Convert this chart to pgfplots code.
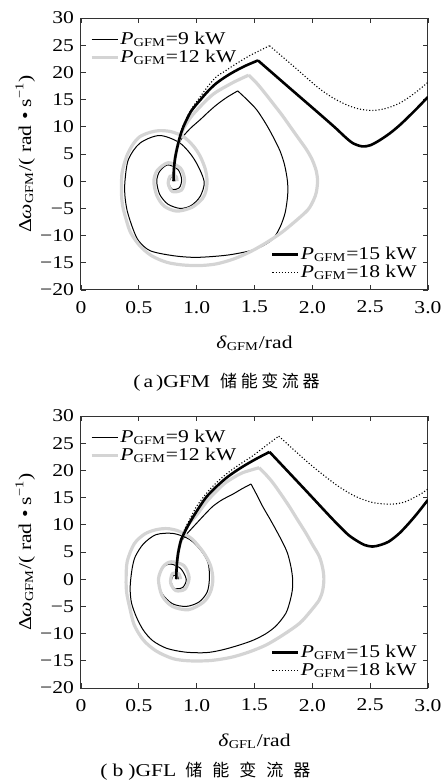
\documentclass[border=0pt]{standalone}
\usepackage{fontspec}
\setmainfont{Liberation Serif}[FakeStretch=1.2]
\newfontfamily\cjk{Noto Sans CJK SC}
\usepackage{pgfplots}
\pgfplotsset{compat=1.18}
\definecolor{lgray}{RGB}{212,212,212}
\newcommand{\fs}{\fontsize{9}{10}\selectfont}
\newcommand{\PG}{\textit{P}\textsubscript{GFM}}
\pgfplotsset{
  myaxis/.style={
    scale only axis, width=173.5pt, height=136pt,
    xmin=0, xmax=3, ymin=-20, ymax=30,
    xtick={0,0.5,1,1.5,2,2.5,3},
    xticklabels={0,0.5,1.0,1.5,2.0,2.5,3.0},
    ytick={-20,-15,-10,-5,0,5,10,15,20,25,30},
    yticklabels={−20,−15,−10,−5,0,5,10,15,20,25,30},
    tick align=inside, major tick length=2.5pt,
    axis line style={line width=0.5pt, black!80},
    every tick/.style={black!80, line width=0.4pt},
    tick label style={font=\fs},
    xticklabel style={yshift=-2pt},
    label style={font=\fs},
    xlabel style={at={(axis description cs:0.5,-0.195)}, anchor=center},
    ylabel style={at={(axis description cs:-0.161,0.5)}, anchor=center},
    legend style={draw=none, fill=none, font=\fs, row sep=0pt, inner sep=0pt,
      nodes={inner sep=0.6pt}},
    legend cell align=left,
    legend image code/.code={\draw[##1] (0pt,0pt) -- (13pt,0pt);},
    no markers,
  },
  p9/.style={black, line width=0.5pt},
  p12/.style={lgray, line width=1.6pt},
  p15/.style={black, line width=1.3pt},
  p18/.style={black, line width=0.55pt, dash pattern=on 0.55pt off 1pt},
}
\begin{document}
\begin{tikzpicture}
\useasboundingbox (-40.5pt,-47.5pt) rectangle (180.5pt,344pt);
% ---------------- (a) ----------------
\begin{axis}[myaxis, name=top, at={(0,199pt)}, anchor=south west,
  xlabel={\textit{δ}\textsubscript{GFM}/rad},
  ylabel={Δ\textit{ω}\textsubscript{GFM}/( rad • s\textsuperscript{−1})},
  legend style={at={(0.025,0.955)}, anchor=north west}]
\addlegendimage{p9}\addlegendentry{\PG=9 kW}
\addlegendimage{p12}\addlegendentry{\PG=12 kW}
% 9 kW
\addplot[p9, smooth, forget plot] coordinates {(0.800,0) (0.803,2) (0.812,4) (0.830,6) (0.856,7.3) (0.885,8.3) (0.95,9.8) (1.03,11.3) (1.10,12.7) (1.17,14.0) (1.26,15.4) (1.355,16.6)};
\addplot[p9, smooth, forget plot] coordinates {(1.355,16.6) (1.44,14.9) (1.52,13.1) (1.60,10.5) (1.66,8.2) (1.72,5.6) (1.76,3.0) (1.785,0) (1.787,-2.5) (1.765,-5.8) (1.72,-8.5) (1.66,-10.6) (1.57,-11.9) (1.46,-12.8) (1.26,-13.6) (1.0,-14.0) (0.80,-13.7) (0.60,-12.8) (0.50,-11.0) (0.45,-8.8) (0.40,-5.5) (0.38,-2.7) (0.38,0) (0.41,4.0) (0.51,7.0) (0.68,8.4) (0.856,7.0) (0.98,4.0) (1.064,0) (1.03,-2.8) (0.95,-4.5) (0.856,-5.0) (0.75,-4.2) (0.68,-2.4) (0.655,0) (0.68,1.8) (0.75,3.0) (0.84,2.1) (0.87,0.3) (0.85,-1.2) (0.79,-1.5) (0.76,-0.4) (0.78,0.7) (0.82,0.5) (0.81,0)};
% 12 kW
\addplot[p12, smooth, forget plot] coordinates {(0.800,0) (0.803,2) (0.812,4) (0.830,6) (0.856,8.0) (0.885,9.6) (0.95,11.8) (1.03,13.7) (1.10,15.2) (1.17,16.4) (1.32,18.2) (1.45,19.5)};
\addplot[p12, smooth, forget plot] coordinates {(1.45,19.5) (1.52,18.0) (1.59,16.2) (1.66,14.3) (1.74,12.1) (1.81,10.0) (1.88,7.9) (1.95,5.8) (2.00,3.9) (2.035,1.8) (2.045,0) (2.035,-2.0) (2.01,-3.5) (1.96,-5.3) (1.84,-7.6) (1.73,-9.5) (1.61,-11.2) (1.47,-12.9) (1.32,-14.3) (1.17,-15.2) (1.03,-15.5) (0.88,-15.4) (0.74,-14.9) (0.61,-13.7) (0.51,-11.9) (0.43,-9.5) (0.39,-7.0) (0.36,-4.5) (0.35,-2.1) (0.355,1.5) (0.395,4.6) (0.45,6.8) (0.51,8.2) (0.60,9.0) (0.68,9.3) (0.78,9.1) (0.885,8.2) (0.97,6.5) (1.03,4.6) (1.075,2.2) (1.09,0) (1.08,-1.8) (1.05,-3.2) (0.96,-4.8) (0.83,-5.5) (0.72,-4.6) (0.655,-2.6) (0.63,0) (0.66,2.0) (0.755,3.4) (0.86,2.4) (0.895,0.3) (0.87,-1.6) (0.79,-1.9) (0.755,-0.5) (0.77,0.9) (0.82,0.9) (0.83,0)};
% 15 kW
\addplot[p15, smooth, forget plot] coordinates {(0.800,0) (0.803,2) (0.812,4) (0.830,6) (0.856,8.2) (0.885,10.0) (0.95,12.8) (1.03,14.9) (1.10,16.6) (1.17,18.0) (1.25,19.2) (1.32,20.1) (1.42,21.2) (1.53,22.2)};
\addplot[p15, smooth, forget plot] coordinates {(1.53,22.2) (1.80,17.2) (2.05,12.6) (2.20,9.8) (2.28,8.2) (2.35,7.0) (2.43,6.4) (2.50,6.6) (2.58,7.5) (2.67,8.8) (2.75,10.2) (2.82,11.6) (2.91,13.5) (3.0,15.5)};
% 18 kW
\addplot[p18, smooth, forget plot] coordinates {(0.800,0) (0.803,2) (0.812,4) (0.830,6) (0.856,8.3) (0.885,10.3) (0.95,13.1) (1.03,15.5) (1.10,17.5) (1.17,19.2) (1.25,20.3) (1.32,21.3) (1.46,23.1) (1.63,24.9)};
\addplot[p18, smooth, forget plot] coordinates {(1.63,24.9) (1.85,20.9) (2.05,17.2) (2.18,15.3) (2.30,14.0) (2.40,13.3) (2.51,13.0) (2.60,13.2) (2.67,13.6) (2.75,14.3) (2.82,15.2) (2.91,16.6) (3.0,18.2)};
\end{axis}
\begin{axis}[myaxis, hide axis, at={(0,199pt)}, anchor=south west,
  legend style={at={(0.972,0.03)}, anchor=south east}]
\addlegendimage{p15}\addlegendentry{\PG=15 kW}
\addlegendimage{p18}\addlegendentry{\PG=18 kW}
\end{axis}
\node[font=\fs, anchor=west, inner sep=0pt] at (26pt,153pt) {(\kern1.5pt a\kern1.5pt)GFM\kern5pt{\cjk\fontsize{8.5}{10}\selectfont 储\kern1.8pt 能\kern1.8pt 变\kern1.8pt 流\kern1.8pt 器}};
% ---------------- (b) ----------------
\begin{axis}[myaxis, name=bot, at={(0,0)}, anchor=south west,
  xlabel={\textit{δ}\textsubscript{GFL}/rad},
  ylabel={Δ\textit{ω}\textsubscript{GFM}/( rad • s\textsuperscript{−1})},
  legend style={at={(0.025,0.955)}, anchor=north west}]
\addlegendimage{p9}\addlegendentry{\PG=9 kW}
\addlegendimage{p12}\addlegendentry{\PG=12 kW}
% 9 kW
\addplot[p9, smooth, forget plot] coordinates {(0.824,0) (0.827,2.3) (0.840,4.8) (0.865,6.8) (0.91,8.2) (1.0,10.3) (1.07,11.9) (1.14,13.4) (1.22,14.6) (1.31,15.6) (1.39,16.6) (1.47,17.5)};
\addplot[p9, smooth, forget plot] coordinates {(1.47,17.5) (1.52,15.5) (1.57,13.4) (1.63,11.2) (1.685,9.1) (1.74,6.9) (1.785,4.8) (1.815,2.3) (1.83,0) (1.827,-2.0) (1.805,-4.2) (1.77,-6.3) (1.69,-8.5) (1.60,-10.0) (1.49,-11.2) (1.37,-12.1) (1.22,-13.0) (1.08,-13.5) (0.90,-13.4) (0.74,-12.7) (0.62,-11.3) (0.54,-9.4) (0.48,-7.0) (0.437,-4.4) (0.425,-2.0) (0.43,0) (0.445,2.3) (0.47,4.2) (0.54,6.5) (0.65,8.2) (0.80,8.4) (0.94,7.3) (1.04,5.2) (1.10,2.9) (1.11,0) (1.09,-2.4) (1.02,-4.2) (0.91,-5.0) (0.79,-4.5) (0.70,-2.6) (0.67,0) (0.70,2.0) (0.77,2.8) (0.86,2.0) (0.91,0) (0.88,-1.5) (0.81,-1.7) (0.78,-0.5) (0.80,0.7) (0.845,0.6) (0.84,0)};
% 12 kW
\addplot[p12, smooth, forget plot] coordinates {(0.824,0) (0.827,2.3) (0.840,4.8) (0.865,7.1) (0.92,9.8) (1.0,11.8) (1.1,14.6) (1.23,17.4) (1.32,18.7) (1.40,19.6) (1.54,20.5)};
\addplot[p12, smooth, forget plot] coordinates {(1.54,20.5) (1.60,19.2) (1.66,17.7) (1.73,15.6) (1.80,13.4) (1.87,11.0) (1.944,8.5) (2.00,6.4) (2.06,4.2) (2.09,2.0) (2.10,0) (2.09,-2.0) (2.06,-3.8) (1.98,-6.0) (1.89,-8.1) (1.75,-10.2) (1.60,-12.1) (1.45,-13.4) (1.31,-14.3) (1.18,-14.8) (1.08,-15.0) (0.93,-15.0) (0.795,-14.6) (0.65,-13.2) (0.54,-11.2) (0.46,-8.4) (0.42,-5.1) (0.395,-2.5) (0.39,0) (0.40,3.3) (0.46,6.5) (0.55,8.3) (0.65,9.1) (0.75,9.3) (0.85,8.8) (0.96,7.4) (1.06,4.9) (1.12,2.5) (1.14,0) (1.12,-2.3) (1.06,-4.2) (0.93,-5.6) (0.79,-5.0) (0.70,-3.0) (0.67,0) (0.71,2.3) (0.78,3.2) (0.89,2.5) (0.935,0.3) (0.90,-1.8) (0.82,-2.1) (0.775,-0.7) (0.79,1.0) (0.845,1.0) (0.86,0)};
% 15 kW
\addplot[p15, smooth, forget plot] coordinates {(0.824,0) (0.827,2.3) (0.840,4.8) (0.865,7.2) (0.90,8.8) (0.94,10.4) (1.0,12.5) (1.08,15.0) (1.17,17.0) (1.255,18.6) (1.34,19.9) (1.43,21.1) (1.53,22.3) (1.63,23.4)};
\addplot[p15, smooth, forget plot] coordinates {(1.63,23.4) (1.944,16.3) (2.15,11.6) (2.25,9.4) (2.32,8.0) (2.39,7.0) (2.45,6.3) (2.52,6.0) (2.59,6.3) (2.66,6.9) (2.74,8.2) (2.81,9.7) (2.90,11.9) (3.0,14.6)};
% 18 kW
\addplot[p18, smooth, forget plot] coordinates {(0.824,0) (0.827,2.3) (0.840,4.8) (0.865,7.4) (0.90,9.3) (0.95,11.4) (1.0,13.4) (1.07,15.4) (1.14,17.1) (1.22,18.7) (1.31,20.2) (1.40,21.5) (1.48,22.6) (1.56,23.9) (1.64,25.2) (1.71,26.3)};
\addplot[p18, smooth, forget plot] coordinates {(1.71,26.3) (1.944,21.8) (2.087,19.3) (2.23,17.0) (2.375,15.2) (2.52,14.1) (2.65,13.8) (2.72,13.85) (2.80,14.2) (2.87,14.9) (2.94,15.7) (3.0,16.6)};
\end{axis}
\begin{axis}[myaxis, hide axis, at={(0,0)}, anchor=south west,
  legend style={at={(0.972,0.03)}, anchor=south east}]
\addlegendimage{p15}\addlegendentry{\PG=15 kW}
\addlegendimage{p18}\addlegendentry{\PG=18 kW}
\end{axis}
\node[font=\fs, anchor=west, inner sep=0pt] at (9.5pt,-41.5pt) {(\kern2.5pt b\kern2.5pt)GFL\kern4.5pt{\cjk\fontsize{8.5}{10}\selectfont 储\kern5pt 能\kern5pt 变\kern5pt 流\kern5pt 器}};
\end{tikzpicture}
\end{document}
